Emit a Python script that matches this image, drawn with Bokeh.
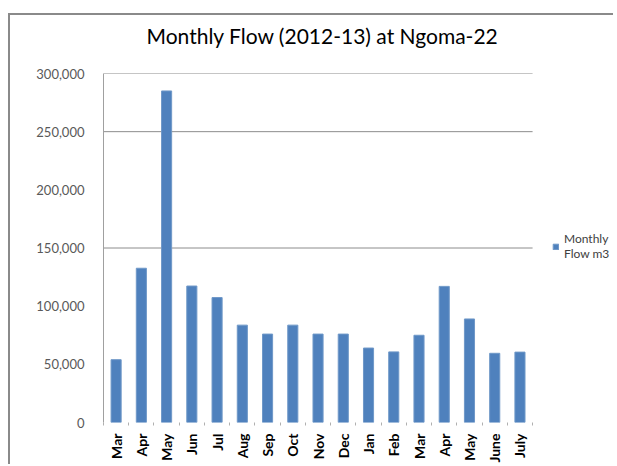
from bokeh.plotting import figure
from bokeh.models import (ColumnDataSource, FixedTicker, NumeralTickFormatter,
                          Legend, LegendItem, Range1d, Title)
from bokeh.embed import file_html
from bokeh.resources import INLINE
import math

months = ["Mar", "Apr", "May", "Jun", "Jul", "Aug", "Sep", "Oct", "Nov",
          "Dec", "Jan", "Feb", "Mar", "Apr", "May", "June", "July"]
flow_m3 = [54000, 132600, 285000, 117300, 107400, 83700, 76000, 83700, 76000,
           76000, 64000, 60700, 75000, 117000, 89000, 59500, 60500]
y_ticks = [0, 50000, 100000, 150000, 200000, 250000, 300000]
grid_values = [150000, 250000, 300000]
title_text = "Monthly Flow (2012-13) at Ngoma-22"
series_name = "Monthly\nFlow m3"

FONT = "Lato"
W, H = 605, 451
LEFT, TOP, BOTTOM = 93, 56, 44
CAT_PX = 25.24  # pixel width of one month slot

n = len(months)
xs = list(range(n))
src = ColumnDataSource(dict(x=xs, top=flow_m3))
x_end = -0.5 + (W - LEFT) / CAT_PX

p = figure(width=W, height=H, output_backend="svg", toolbar_location=None,
           title=None,
           x_range=Range1d(-0.5, x_end), y_range=Range1d(0, 300000),
           min_border_left=LEFT, min_border_right=0, min_border_top=TOP,
           min_border_bottom=BOTTOM)
p.styles = {"border-left": "2px solid #8a8a8a", "border-top": "2px solid #8a8a8a",
            "margin-left": "8px", "margin-top": "13px"}
p.background_fill_color = "white"
p.border_fill_color = "white"
p.outline_line_color = None

# spacer between the plot area and the title, then the title itself
p.add_layout(Title(text=" ", text_font_size="1px", standoff=18), "above")
p.add_layout(Title(text=title_text, align="left", offset=43, text_font=FONT,
                   text_font_size="21px", text_font_style="normal",
                   text_color="#000000", standoff=10), "above")

# horizontal gridlines, spanning the category area only
p.segment(x0=[-0.5] * len(grid_values), x1=[n - 0.5] * len(grid_values),
          y0=grid_values, y1=grid_values, line_color="#8c8c8c", line_width=1)

r = p.vbar(x="x", top="top", width=0.4, source=src, fill_color="#4F81BD",
           line_color="#6f98c8", line_width=1)

# y axis
ya = p.yaxis[0]
ya.ticker = FixedTicker(ticks=y_ticks)
ya.formatter = NumeralTickFormatter(format="0,0")
ya.axis_line_color = "#a0a0a0"
ya.major_tick_line_color = None
ya.minor_tick_line_color = None
ya.major_label_standoff = 13
ya.major_label_text_font = FONT
ya.major_label_text_font_size = "13px"
ya.major_label_text_color = "#595959"

# x axis
xa = p.xaxis[0]
xa.ticker = FixedTicker(ticks=xs, minor_ticks=[i - 0.5 for i in range(n + 1)])
xa.major_label_overrides = {i: m for i, m in enumerate(months)}
xa.major_label_orientation = math.pi / 2
xa.axis_line_color = None
xa.major_tick_line_color = None
xa.minor_tick_line_color = "#b0b0b0"
xa.minor_tick_in = 0
xa.minor_tick_out = 3
xa.major_label_standoff = 5
xa.major_label_text_font = FONT
xa.major_label_text_font_size = "14px"
xa.major_label_text_font_style = "bold"
xa.major_label_text_color = "#000000"

p.xgrid.grid_line_color = None
p.ygrid.grid_line_color = None

legend = Legend(items=[LegendItem(label=series_name, renderers=[r])],
                location=(449, 161), orientation="vertical",
                border_line_color=None, background_fill_alpha=0,
                padding=0, margin=0, glyph_width=7, glyph_height=7,
                label_standoff=5, label_text_font=FONT,
                label_text_font_size="12px", label_text_color="#404040")
p.add_layout(legend)

open("out.html", "w").write(file_html(p, INLINE))
